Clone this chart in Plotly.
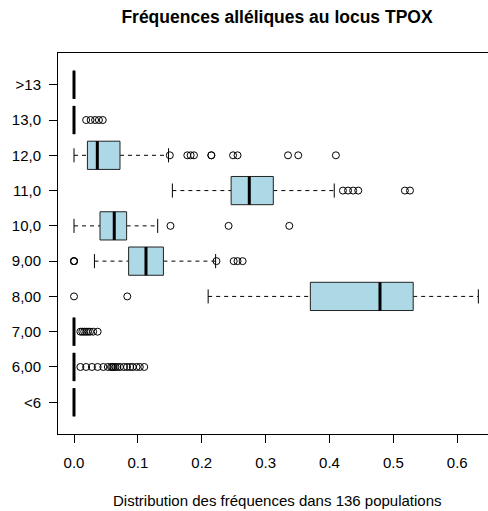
import plotly.graph_objects as go

# Allele categories, bottom to top
categories = ["<6", "6,00", "7,00", "8,00", "9,00", "10,0", "11,0", "12,0", "13,0", ">13"]

# Five-number summaries of the allele frequencies (lower whisker, Q1, median, Q3, upper whisker)
whisker_low = [0.0, 0.0, 0.0, 0.210, 0.032, 0.0, 0.154, 0.0, 0.0, 0.0]
q1 = [0.0, 0.0, 0.0, 0.370, 0.0855, 0.0407, 0.246, 0.021, 0.0, 0.0]
median = [0.0, 0.0, 0.0, 0.479, 0.1127, 0.063, 0.2744, 0.0365, 0.0, 0.0]
q3 = [0.0, 0.0, 0.0, 0.531, 0.140, 0.0824, 0.312, 0.072, 0.0, 0.0]
whisker_high = [0.0, 0.0, 0.0, 0.633, 0.2217, 0.131, 0.4074, 0.148, 0.0, 0.0]

# Outlying populations for each category
outliers = [
    [],
    [0.010, 0.019, 0.028, 0.037, 0.046, 0.053, 0.058, 0.060, 0.062, 0.065,
     0.068, 0.072, 0.078, 0.083, 0.088, 0.092, 0.098, 0.103, 0.110],
    [0.010, 0.013, 0.016, 0.019, 0.022, 0.025, 0.030, 0.037],
    [0.0, 0.0834],
    [0.0, 0.0, 0.0, 0.223, 0.250, 0.256, 0.264],
    [0.151, 0.242, 0.337],
    [0.421, 0.429, 0.437, 0.445, 0.518, 0.526],
    [0.150, 0.1774, 0.1826, 0.1878, 0.215, 0.215, 0.249, 0.256, 0.335, 0.351, 0.410],
    [0.019, 0.026, 0.033, 0.039, 0.045],
    [],
]

title = "Fréquences alléliques au locus TPOX"
xlabel = "Distribution des fréquences dans 136 populations"
xticks = [0.0, 0.1, 0.2, 0.3, 0.4, 0.5, 0.6]

BOX_HALF = 0.4
STAPLE_HALF = 0.2
FONT = "Liberation Sans, Arial, sans-serif"

fig = go.Figure()

for i, cat in enumerate(categories):
    y = i + 1
    # dashed whiskers
    fig.add_trace(go.Scatter(
        x=[whisker_low[i], q1[i], None, q3[i], whisker_high[i]],
        y=[y, y, None, y, y],
        mode="lines", line=dict(color="black", width=1, dash="4px,4px"),
        hoverinfo="skip", showlegend=False))
    # staples
    fig.add_trace(go.Scatter(
        x=[whisker_low[i], whisker_low[i], None, whisker_high[i], whisker_high[i]],
        y=[y - STAPLE_HALF, y + STAPLE_HALF, None, y - STAPLE_HALF, y + STAPLE_HALF],
        mode="lines", line=dict(color="black", width=1),
        hoverinfo="skip", showlegend=False))
    # box
    fig.add_trace(go.Scatter(
        x=[q1[i], q3[i], q3[i], q1[i], q1[i]],
        y=[y - BOX_HALF, y - BOX_HALF, y + BOX_HALF, y + BOX_HALF, y - BOX_HALF],
        mode="lines", fill="toself", fillcolor="#ADD8E6",
        line=dict(color="#222222", width=1),
        hoverinfo="skip", showlegend=False))
    # median
    fig.add_trace(go.Scatter(
        x=[median[i], median[i]], y=[y - BOX_HALF, y + BOX_HALF],
        mode="lines", line=dict(color="black", width=3),
        hoverinfo="skip", showlegend=False))
    # outliers
    if outliers[i]:
        fig.add_trace(go.Scatter(
            x=outliers[i], y=[y] * len(outliers[i]),
            mode="markers",
            marker=dict(symbol="circle-open", size=7, color="black", line=dict(width=1)),
            hoverinfo="skip", showlegend=False))

fig.update_layout(
    width=488, height=511,
    margin=dict(l=58, r=0, t=53, b=77),
    plot_bgcolor="white", paper_bgcolor="white",
    font=dict(family=FONT, size=15, color="black"),
    title=dict(text="<b>" + title + "</b>", x=277 / 488, xanchor="center",
               xref="container", y=1 - 17 / 511, yanchor="middle",
               font=dict(size=17.5, family=FONT, color="black")),
    xaxis=dict(range=[-0.02505, 0.6481], tickvals=xticks,
               ticktext=[f"{v:.1f}" for v in xticks],
               showgrid=False, zeroline=False, showline=True, linecolor="black",
               linewidth=1, mirror=True, ticks="outside", ticklen=8,
               tickcolor="black", ticklabelstandoff=7),
    yaxis=dict(range=[0.1, 10.9], tickvals=list(range(1, len(categories) + 1)),
               ticktext=categories, showgrid=False, zeroline=False,
               showline=True, linecolor="black", linewidth=1,
               ticks="outside", ticklen=8, tickcolor="black", ticklabelstandoff=5),
    annotations=[dict(text=xlabel, xref="paper", yref="paper",
                      x=(277 - 58) / 430, y=(434 - 500.7) / 381,
                      xanchor="center", yanchor="middle", showarrow=False,
                      font=dict(size=15, family=FONT, color="black"))],
    hovermode=False,
)

fig.write_html("out.html", config={"displayModeBar": False})
